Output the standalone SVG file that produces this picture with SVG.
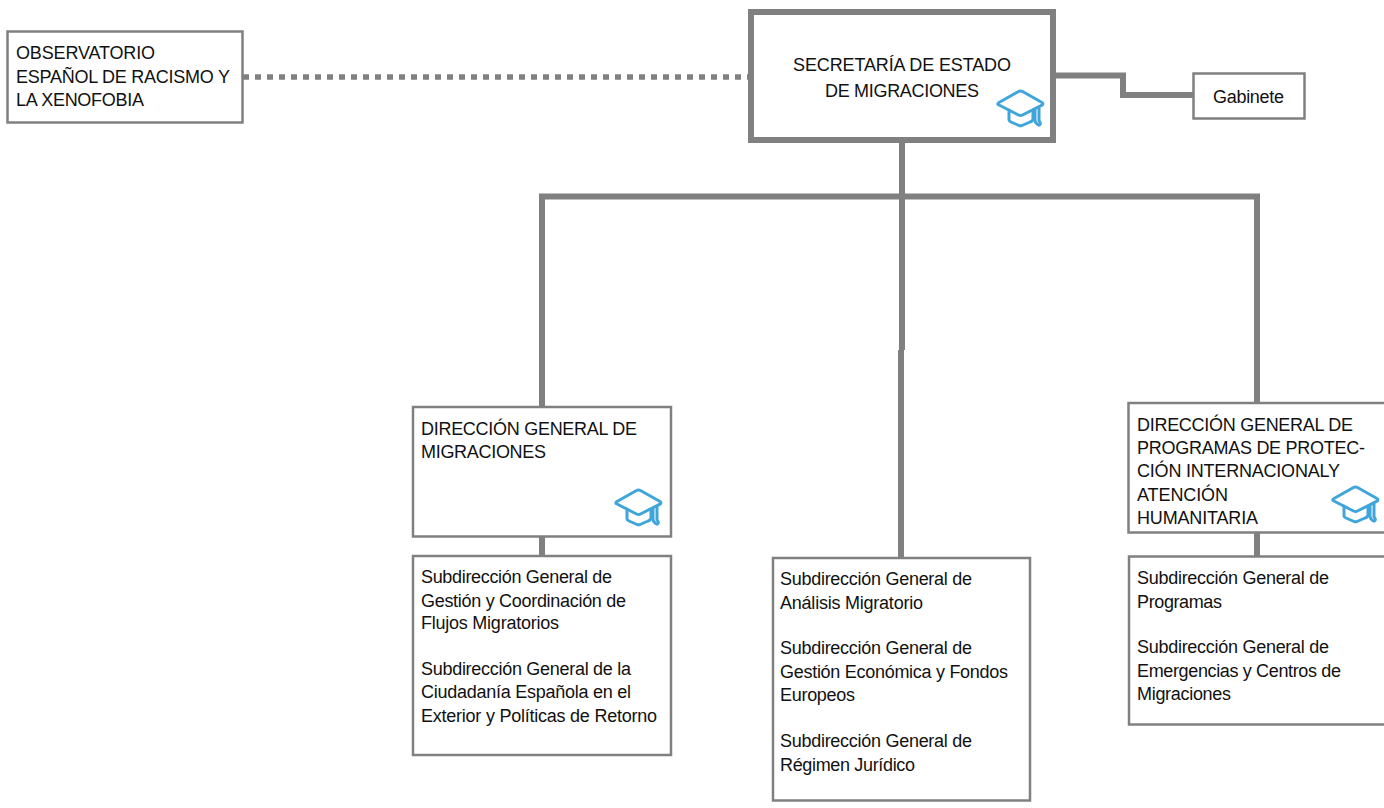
<svg xmlns="http://www.w3.org/2000/svg" width="1384" height="808" viewBox="0 0 1384 808">
<style>
text{font-family:"Liberation Sans",Arial,sans-serif;font-size:18px;fill:#111}
.box{fill:#fff;stroke:#808080;stroke-width:2.5}
.conn{fill:none;stroke:#808080;stroke-width:6}
.cap{fill:none;stroke:#3fa5da;stroke-width:3;stroke-linejoin:round;stroke-linecap:round;filter:url(#soft)}
</style>
<defs>
<filter id="soft" x="-10%" y="-10%" width="120%" height="120%"><feGaussianBlur stdDeviation="0.45"/></filter>
<g id="cap" class="cap">
<path d="M1 14.500Q0.500 13.500 2 12.500L21.500 1.500Q23.500 0.500 25.500 1.500L45 12.500Q46.500 13.500 45.500 14.800L25.500 25Q23.500 26 21.500 25Z"/>
<path d="M12 20V30Q12 31 14 32L22 35.500Q23.500 36 25 35.500L33 32Q36 31 36 29V21"/>
<path d="M38 20V30Q38 32 40 34Q42 36 43 34.500Q44 33 42 31V18"/>
</g>
</defs>
<g id="connectors">
<path class="conn" d="M902 142V350"/>
<path class="conn" d="M901 350V558"/>
<path class="conn" d="M542 407V196.500H1257V403"/>
<path class="conn" d="M542 537V555"/>
<path class="conn" d="M1257 533V556"/>
<path class="conn" d="M1056 75.500H1123V95H1193"/>
<path class="conn" d="M243 77H748" stroke-dasharray="6 6" style="stroke-width:5.500"/>
</g>
<g id="observatorio">
<rect class="box" x="7.500" y="31.500" width="235" height="91"/>
<text x="16" y="59" textLength="139">OBSERVATORIO</text>
<text x="16" y="83" textLength="214">ESPAÑOL DE RACISMO Y</text>
<text x="16" y="106" textLength="128">LA XENOFOBIA</text>
</g>
<g id="secretaria">
<rect x="751" y="12" width="302" height="128" style="fill:#fff;stroke:#808080;stroke-width:6"/>
<text x="793" y="70.500" textLength="218">SECRETARÍA DE ESTADO</text>
<text x="825" y="97" textLength="154">DE MIGRACIONES</text>
<use href="#cap" x="997" y="90"/>
</g>
<g id="gabinete">
<rect class="box" x="1193.500" y="73.500" width="111" height="45"/>
<text x="1213" y="103" textLength="71">Gabinete</text>
</g>
<g id="dg-migraciones">
<rect class="box" x="413" y="407" width="258" height="129.500"/>
<text x="421" y="435" textLength="216">DIRECCIÓN GENERAL DE</text>
<text x="421" y="458" textLength="125">MIGRACIONES</text>
<use href="#cap" x="615" y="489"/>
</g>
<g id="dg-programas">
<rect class="box" x="1128.500" y="403" width="260" height="129.500"/>
<text x="1137" y="431" textLength="216">DIRECCIÓN GENERAL DE</text>
<text x="1137" y="454" textLength="228">PROGRAMAS DE PROTEC-</text>
<text x="1137" y="477" textLength="203">CIÓN INTERNACIONALY</text>
<text x="1137" y="501" textLength="91">ATENCIÓN</text>
<text x="1137" y="524" textLength="121">HUMANITARIA</text>
<use href="#cap" x="1332" y="486"/>
</g>
<g id="sub-migraciones">
<rect class="box" x="413" y="556" width="258" height="199"/>
<text x="421" y="583" textLength="191">Subdirección General de</text>
<text x="421" y="607" textLength="205">Gestión y Coordinación de</text>
<text x="421" y="629" textLength="138">Flujos Migratorios</text>
<text x="421" y="675" textLength="210">Subdirección General de la</text>
<text x="421" y="698" textLength="210">Ciudadanía Española en el</text>
<text x="421" y="722" textLength="236">Exterior y Políticas de Retorno</text>
</g>
<g id="sub-centro">
<rect class="box" x="773" y="558" width="257" height="242.500"/>
<text x="780" y="585" textLength="192">Subdirección General de</text>
<text x="780" y="609" textLength="143">Análisis Migratorio</text>
<text x="780" y="654" textLength="192">Subdirección General de</text>
<text x="780" y="678" textLength="228">Gestión Económica y Fondos</text>
<text x="780" y="701" textLength="75">Europeos</text>
<text x="780" y="747" textLength="192">Subdirección General de</text>
<text x="780" y="771" textLength="135">Régimen Jurídico</text>
</g>
<g id="sub-programas">
<rect class="box" x="1129" y="556.500" width="260" height="168"/>
<text x="1137" y="584" textLength="192">Subdirección General de</text>
<text x="1137" y="608" textLength="85">Programas</text>
<text x="1137" y="653" textLength="192">Subdirección General de</text>
<text x="1137" y="677" textLength="204">Emergencias y Centros de</text>
<text x="1137" y="700" textLength="94">Migraciones</text>
</g>
</svg>
